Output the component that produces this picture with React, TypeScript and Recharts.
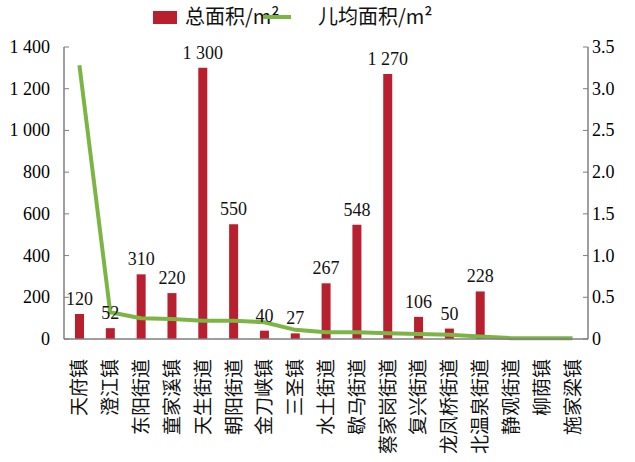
import React from 'react';
import { ComposedChart, Bar, Line, XAxis, YAxis, LabelList } from 'recharts';

const towns = ['天府镇', '澄江镇', '东阳街道', '童家溪镇', '天生街道', '朝阳街道', '金刀峡镇', '三圣镇', '水土街道', '歇马街道', '蔡家岗街道', '复兴街道', '龙凤桥街道', '北温泉街道', '静观街道', '柳荫镇', '施家梁镇'];
const totalArea = [120, 52, 310, 220, 1300, 550, 40, 27, 267, 548, 1270, 106, 50, 228, 0, 0, 0];
const perChildArea = [3.28, 0.32, 0.25, 0.24, 0.22, 0.22, 0.2, 0.11, 0.08, 0.08, 0.07, 0.06, 0.05, 0.03, 0.01, 0.01, 0.01];
const leftTicks = [0, 200, 400, 600, 800, 1000, 1200, 1400];
const rightTicks = [0, 0.5, 1, 1.5, 2, 2.5, 3, 3.5];

const chartData = towns.map((name, i) => ({
  name,
  total: totalArea[i],
  perChild: perChildArea[i],
}));

const RED = '#b8202f';
const GREEN = '#7db544';
const AXIS = '#7f7f7f';
const SERIF = "'Liberation Serif', 'Times New Roman', serif";
const CJK = "'Noto Sans CJK SC', sans-serif";

// 1 300 style, with a no-break space so the label never wraps
const fmtThousands = (v: number) => {
  const s = String(v);
  return s.length > 3 ? s.slice(0, s.length - 3) + '\u00a0' + s.slice(-3) : s;
};

const renderXTick = (props: any) => {
  const { x, y, payload } = props;
  return (
    <text key={payload.value} x={x} y={y} transform={`rotate(-90, ${x}, ${y})`} textAnchor="end" dy={7} dx={-12}
      fontFamily={CJK} fontSize={19} fill="#111">
      {payload.value}
    </text>
  );
};

const renderLeftTick = (props: any) => {
  const { x, y, payload } = props;
  return (
    <text key={payload.value} x={x} y={y} textAnchor="end" dy={6} fontFamily={SERIF} fontSize={18} fill="#000">
      {fmtThousands(payload.value)}
    </text>
  );
};

const renderRightTick = (props: any) => {
  const { x, y, payload } = props;
  const v = payload.value as number;
  return (
    <text key={v} x={x} y={y} textAnchor="start" dy={6} fontFamily={SERIF} fontSize={18} fill="#000">
      {v === 0 ? '0' : v.toFixed(1)}
    </text>
  );
};

const BarLabel = (props: any) => {
  const { x, y, width, value } = props;
  return (
    <text x={x + width / 2} y={y - 9} textAnchor="middle" fontFamily={SERIF} fontSize={18} fill="#111">
      {fmtThousands(Number(value))}
    </text>
  );
};

const App: React.FC = () => {
  return (
    <div style={{ position: 'absolute', left: 0, top: 0, width: 635, height: 462, background: '#fff', fontFamily: SERIF }}>
      <div style={{ position: 'absolute', left: 0, top: 0, width: 635, height: 40, fontFamily: CJK, fontSize: 20, color: '#111' }}>
        <div style={{ position: 'absolute', left: 153, top: 11, width: 24, height: 13, background: RED }} />
        <span style={{ position: 'absolute', left: 185, top: 2, lineHeight: '28px' }}>总面积/m²</span>
        <div style={{ position: 'absolute', left: 263, top: 15, width: 28, height: 4, background: GREEN }} />
        <span style={{ position: 'absolute', left: 318, top: 2, lineHeight: '28px' }}>儿均面积/m²</span>
      </div>
      <ComposedChart width={635} height={462} data={chartData}
        margin={{ top: 47, right: 0, left: 0, bottom: 0 }}>
        <XAxis dataKey="name" interval={0} height={123} tick={renderXTick}
          tickLine={false} axisLine={{ stroke: AXIS, strokeWidth: 1.5 }} />
        <YAxis yAxisId="left" width={64} domain={[0, 1400]} ticks={leftTicks}
          tickSize={-5} tickMargin={19} tick={renderLeftTick} fontFamily={SERIF} fontSize={18}
          tickLine={{ stroke: AXIS }} axisLine={{ stroke: AXIS, strokeWidth: 1.5 }} />
        <YAxis yAxisId="right" orientation="right" width={47} domain={[0, 3.5]} ticks={rightTicks}
          tickSize={-5} tickMargin={9} tick={renderRightTick} fontFamily={SERIF} fontSize={18}
          tickLine={{ stroke: AXIS }} axisLine={{ stroke: AXIS, strokeWidth: 1.5 }} />
        <Bar yAxisId="left" dataKey="total" fill={RED} barSize={9} isAnimationActive={false}>
          <LabelList dataKey="total" content={<BarLabel />} />
        </Bar>
        <Line yAxisId="right" type="linear" dataKey="perChild" stroke={GREEN} strokeWidth={4}
          dot={false} activeDot={false} isAnimationActive={false} />
      </ComposedChart>
    </div>
  );
};

export default App;
